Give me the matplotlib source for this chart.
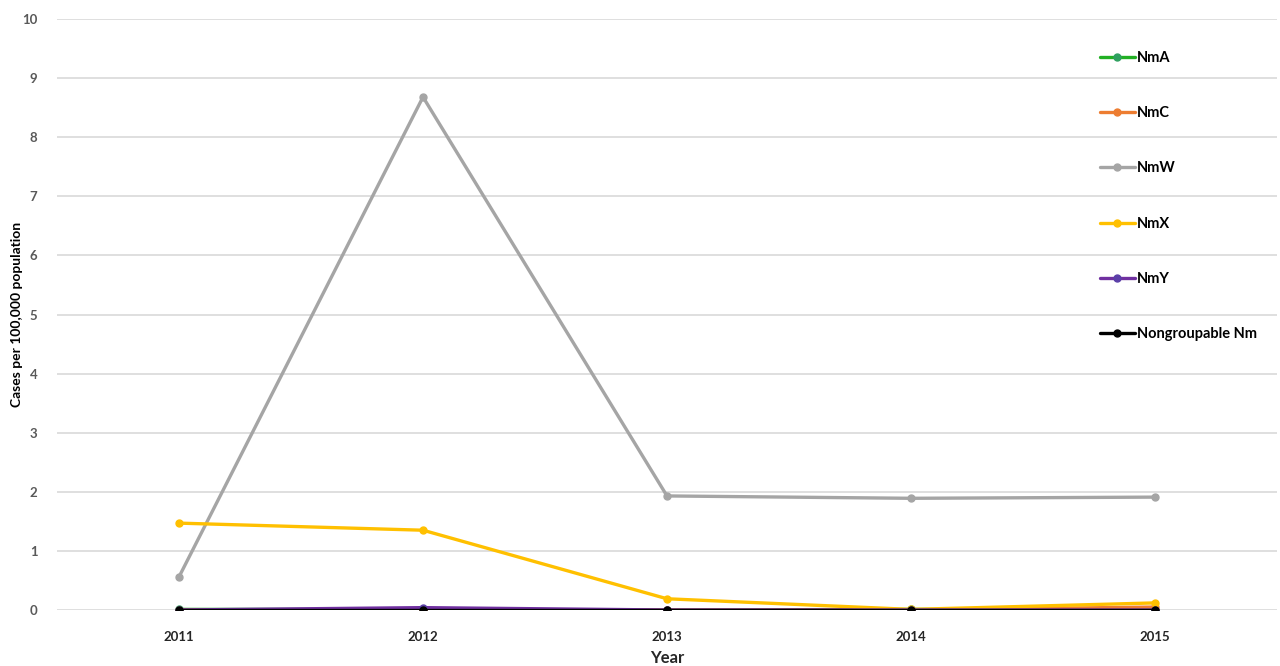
import matplotlib
matplotlib.use("Agg")
import matplotlib.pyplot as plt

plt.rcParams['font.family'] = ['Lato', 'DejaVu Sans']

years = [2011, 2012, 2013, 2014, 2015]
series_names = ["NmA", "NmC", "NmW", "NmX", "NmY", "Nongroupable Nm"]
nmA = [0.01, 0.01, 0.0, 0.01, 0.0]
nmC = [0.0, 0.0, 0.0, 0.0, 0.05]
nmW = [0.56, 8.68, 1.93, 1.89, 1.91]
nmX = [1.47, 1.35, 0.19, 0.01, 0.12]
nmY = [0.0, 0.04, 0.0, 0.0, 0.0]
nonGroup = [0.0, 0.0, 0.0, 0.0, 0.0]
colors = ["#22B024", "#ED7D31", "#A5A5A5", "#FFC000", "#7030A0", "#000000"]
marker_colors = ["#2FA060", "#ED7D31", "#A5A5A5", "#FFC000", "#5B3FA8", "#000000"]

fig = plt.figure(figsize=(12.8, 6.66), dpi=100)
ax = fig.add_axes([57/1280, (666-610)/666, (1277-57)/1280, (610-19)/666])

data = [nmA, nmC, nmW, nmX, nmY, nonGroup]
handles = []
for name, vals, c, mc in zip(series_names, data, colors, marker_colors):
    h, = ax.plot(years, vals, color=c, lw=2.4, marker='o', ms=5,
                 markerfacecolor=mc, markeredgecolor=mc, label=name, zorder=3,
                 solid_capstyle='round')
    handles.append(h)

ax.set_xlim(2010.5, 2015.5)
ax.set_ylim(0, 10)
ax.set_yticks(range(0, 11))
ax.set_xticks(years)
ax.set_xticklabels([str(y) for y in years])
ax.grid(axis='y', color='#D9D9D9', lw=1.2, zorder=0)
ax.set_axisbelow(True)
for s in ax.spines.values():
    s.set_visible(False)
ax.tick_params(axis='both', length=0, labelsize=9.5)
ax.tick_params(axis='y', pad=14, labelcolor='#595959')
ax.tick_params(axis='x', pad=15, labelcolor='#262626')
for lbl in ax.get_yticklabels() + ax.get_xticklabels():
    lbl.set_fontweight('bold')
ax.set_xlabel("Year", fontsize=12, fontweight='bold', labelpad=5, color='#262626')
ax.set_ylabel("Cases per 100,000 population", fontsize=10, fontweight='bold', color='#000000')
ax.yaxis.set_label_coords((23-57)/1220, 0.5)

leg = ax.legend(handles=handles, loc='upper left', bbox_to_anchor=((1094-57)/1220, (610-45)/591),
                frameon=False, fontsize=10.5, labelspacing=2.83, handlelength=2.4,
                handletextpad=0.15, borderaxespad=0)
for t in leg.get_texts():
    t.set_fontweight('bold')

fig.savefig("out.png", dpi=100)
